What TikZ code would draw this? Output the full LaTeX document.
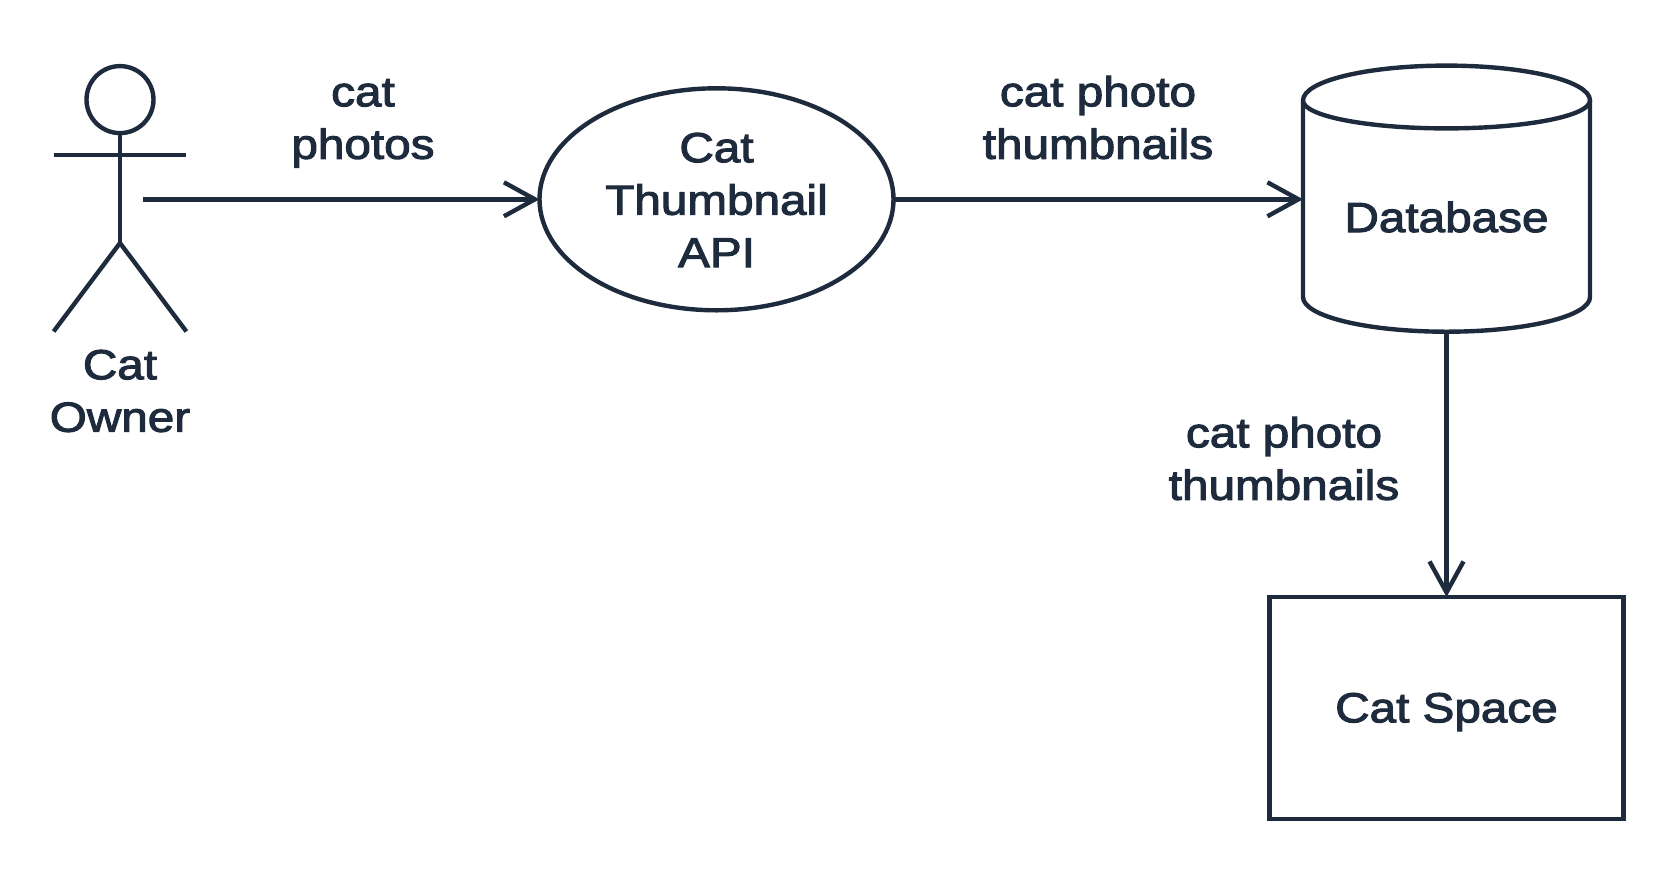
\documentclass[tikz,border=0pt]{standalone}
\usepackage{fontspec}
\setmainfont[FakeStretch=1.135,FakeBold=2.5]{Liberation Sans}
\usetikzlibrary{arrows.meta,shapes.geometric}
\definecolor{ink}{HTML}{1E2B3C}
\tikzset{
  every path/.style={line width=4.4pt,draw=ink},
  label text/.style={draw=none,text=ink,align=center,inner sep=0pt,font=\fontsize{42}{52.5}\selectfont},
  flow/.style={-{Straight Barb[length=31pt,width=34pt,line width=4.4pt]}},
  stick/.style={line cap=butt},
  hidden box/.style={draw=none,inner sep=0pt,outer sep=0pt}
}
\begin{document}
\begin{tikzpicture}[x=1pt,y=-1pt]
\useasboundingbox[draw=none] (0,0) rectangle (1680,884);
% actor
\node[draw=ink,circle,inner sep=0pt,minimum size=67pt,outer sep=0pt] (head) at (120,99.6) {};
\coordinate (hip) at (120,243);
\coordinate (armL) at (53.6,154.8);
\coordinate (armR) at (186.4,154.8);
\coordinate (footL) at (53.6,331.5);
\coordinate (footR) at (186.4,331.5);
\coordinate (ownerOut) at (142.5,199.3);
\draw[stick] (head.south) -- (hip);
\draw[stick] (armL) -- (armR);
\draw[stick] (footL) -- (hip) -- (footR);
\node[label text] (owner) at (120,391) {Cat\\Owner};
% api
\node[draw=ink,ellipse,inner sep=0pt,outer sep=0pt,minimum width=354pt,minimum height=222pt] (api) at (716.5,199.3) {};
\node[label text] (apitext) at (716.5,200) {Cat\\Thumbnail\\API};
% database
\node[hidden box,minimum width=287pt,minimum height=265pt] (db) at (1446.5,199.3) {};
\draw (1303,100.5) -- (1303,297)
  .. controls (1303,316.3) and (1367.2,331.7) .. (1446.5,331.7)
  .. controls (1525.8,331.7) and (1590,316.3) .. (1590,297) -- (1590,100.5);
\draw (1303,100.5)
  .. controls (1303,81) and (1367.2,65.6) .. (1446.5,65.6)
  .. controls (1525.8,65.6) and (1590,81) .. (1590,100.5)
  .. controls (1590,116) and (1525.8,128.4) .. (1446.5,128.4)
  .. controls (1367.2,128.4) and (1303,116) .. (1303,100.5) -- cycle;
\node[label text] (dbtext) at (1446.5,217) {Database};
% space
\node[draw=ink,rectangle,inner sep=0pt,outer sep=0pt,minimum width=354pt,minimum height=222pt] (space) at (1446.5,708) {};
\node[label text] (spacetext) at (1446.5,712) {Cat Space};
% flows
\draw[flow] (ownerOut) -- (api.west);
\draw[flow] (api.east) -- (db.west);
\draw[flow] (db.south) -- (space.north);
% labels
\node[label text] (l1) at (363,123.3) {cat\\photos};
\node[label text] (l2) at (1098,117.5) {cat photo\\thumbnails};
\node[label text] (l3) at (1284,458.5) {cat photo\\thumbnails};
\end{tikzpicture}
\end{document}
